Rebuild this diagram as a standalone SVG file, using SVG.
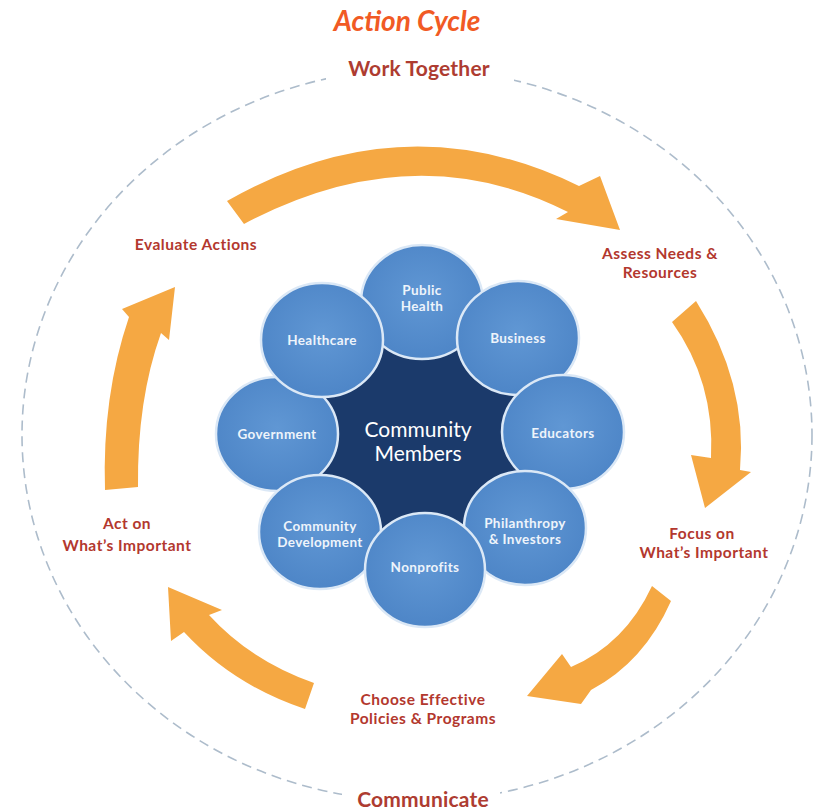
<svg xmlns="http://www.w3.org/2000/svg" width="824" height="812" viewBox="0 0 824 812">
<defs>
<radialGradient id="petal" cx="50%" cy="45%" r="60%">
<stop offset="0" stop-color="#6097d4"/>
<stop offset="1" stop-color="#4c84c6"/>
</radialGradient>
<style>
.petal ellipse{fill:url(#petal);stroke:#dbe8f6;stroke-width:2.5}
.pt{font-family:Lato,"Liberation Sans",sans-serif;font-weight:700;font-size:13.5px;letter-spacing:0.4px;fill:#eef4fb;text-anchor:middle}
.lbl{font-family:Lato,"Liberation Sans",sans-serif;font-weight:700;font-size:15.5px;letter-spacing:0.5px;fill:#b3382e;text-anchor:middle}
.big{font-size:21px;letter-spacing:0.2px;fill:#ae3c31}
.arrow{fill:#f5a843}
</style>
</defs>
<rect width="824" height="812" fill="#ffffff"/>
<text x="407" y="31" font-family="Lato,'Liberation Sans',sans-serif" font-weight="700" font-style="italic" font-size="28" fill="#f15a24" text-anchor="middle">Action Cycle</text>
<ellipse cx="417" cy="435" rx="395" ry="366" fill="none" stroke="#adbccb" stroke-width="1.6" stroke-dasharray="10 6"/>
<rect x="326" y="52" width="188" height="34" fill="#ffffff"/>
<rect x="342" y="783" width="158" height="29" fill="#ffffff"/>
<g id="connectors">
<path class="arrow" d="M244,224 L227,201 Q404,100 579,186 L600,176 L620,230 L556,219 L568,212 Q414,134 244,224 Z"/>
<path class="arrow" d="M672,322 L696,301 Q748,383 740,470 L751,472 L705,508 L691,455 L711,458 Q715,382 672,322 Z"/>
<path class="arrow" d="M652,586 L671,601 Q644,662 591,690 L581,704 L527,696 L562,654 L571,667 Q625,644 652,586 Z"/>
<path class="arrow" d="M314,683 L305,709 Q233,685 184,632 L171,641 L168,587 L222,610 L209,615 Q251,661 314,683 Z"/>
<path class="arrow" d="M105,490 L138,487 Q137,400 161,333 L169,340 L175,287 L122,309 L129,317 Q102,396 105,490 Z"/>
</g>
<g id="labels">
<text class="lbl big" x="419" y="76">Work Together</text>
<text class="lbl" x="196" y="250">Evaluate Actions</text>
<text class="lbl" x="660" y="259">Assess Needs &amp;</text>
<text class="lbl" x="660" y="278">Resources</text>
<text class="lbl" x="702" y="539">Focus on</text>
<text class="lbl" x="704" y="558">What’s Important</text>
<text class="lbl" x="423" y="705">Choose Effective</text>
<text class="lbl" x="423" y="724">Policies &amp; Programs</text>
<text class="lbl" x="127" y="529">Act on</text>
<text class="lbl" x="127" y="551">What’s Important</text>
<text class="lbl big" x="423" y="807">Communicate</text>
</g>
<g id="community-members">
<circle cx="421" cy="435" r="112" fill="#1b3a6b"/>
</g>
<g id="public-health" class="petal"><ellipse cx="422" cy="302" rx="61" ry="57"/><text class="pt" x="422" y="295">Public</text><text class="pt" x="422" y="311">Health</text></g>
<g id="government" class="petal"><ellipse cx="277" cy="434" rx="61" ry="57"/><text class="pt" x="277" y="439">Government</text></g>
<g id="business" class="petal"><ellipse cx="518" cy="338" rx="61" ry="57"/><text class="pt" x="518" y="343">Business</text></g>
<g id="educators" class="petal"><ellipse cx="563" cy="432" rx="61" ry="57"/><text class="pt" x="563" y="438">Educators</text></g>
<g id="philanthropy" class="petal"><ellipse cx="525" cy="528" rx="61" ry="57"/><text class="pt" x="525" y="528">Philanthropy</text><text class="pt" x="525" y="544">&amp; Investors</text></g>
<g id="healthcare" class="petal"><ellipse cx="322" cy="340" rx="61" ry="57"/><text class="pt" x="322" y="345">Healthcare</text></g>
<g id="community-development" class="petal"><ellipse cx="320" cy="532" rx="61" ry="57"/><text class="pt" x="320" y="531">Community</text><text class="pt" x="320" y="547">Development</text></g>
<g id="nonprofits" class="petal"><ellipse cx="425" cy="570" rx="60" ry="57"/><text class="pt" x="425" y="572">Nonprofits</text></g>
<g id="community-members-label">
<text x="418" y="437" font-family="Lato,'Liberation Sans',sans-serif" font-size="21" fill="#ffffff" text-anchor="middle">Community</text>
<text x="418" y="461" font-family="Lato,'Liberation Sans',sans-serif" font-size="21" fill="#ffffff" text-anchor="middle">Members</text>
</g>
</svg>
